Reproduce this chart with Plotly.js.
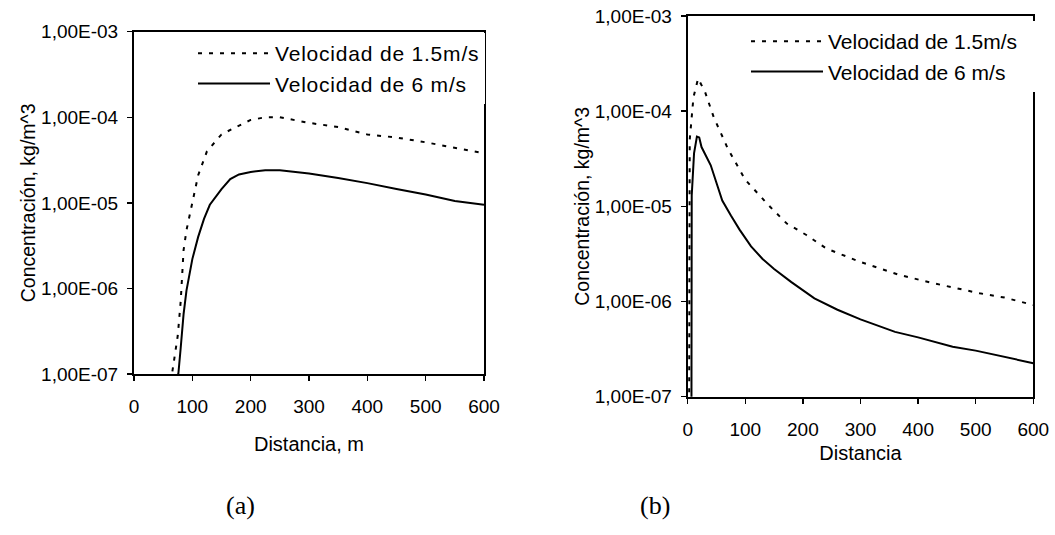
<!DOCTYPE html>
<html>
<head>
<meta charset="utf-8">
<script src="https://cdn.plot.ly/plotly-3.0.1.min.js"></script>
<style>
  html, body { margin: 0; padding: 0; background: #fff; }
  #chart { width: 1055px; height: 535px; }
  .legendtext { letter-spacing: 0.8px; }
</style>
</head>
<body>
<div id="chart"></div>
<script>
// ---- Data ----
const seriesNames = ["Velocidad de 1.5m/s", "Velocidad de 6 m/s"];

// Panel (a)
const distA_slow = [63, 66, 70, 75, 80, 85, 90, 100, 110, 125, 150, 175, 200, 225, 250, 300, 350, 400, 450, 500, 550, 600];
const concA_slow = [8e-8, 1.1e-7, 1.5e-7, 2.8e-7, 7e-7, 2.8e-6, 4.8e-6, 1e-5, 2.1e-5, 4e-5, 6.3e-5, 7.7e-5, 9.3e-5, 1e-4, 1e-4, 8.6e-5, 7.7e-5, 6.3e-5, 5.8e-5, 5.1e-5, 4.4e-5, 3.8e-5];
const distA_fast = [74, 76, 80, 85, 90, 100, 110, 120, 130, 150, 165, 180, 200, 225, 250, 300, 350, 400, 450, 500, 550, 600];
const concA_fast = [8e-8, 1e-7, 2e-7, 5e-7, 9.5e-7, 2.2e-6, 4e-6, 6.5e-6, 9.5e-6, 1.45e-5, 1.9e-5, 2.15e-5, 2.3e-5, 2.4e-5, 2.4e-5, 2.2e-5, 1.95e-5, 1.7e-5, 1.45e-5, 1.25e-5, 1.05e-5, 9.5e-6];

// Panel (b)
const distB_slow = [2.5, 3.5, 10, 18, 30, 45, 70, 100, 125, 143, 172, 206, 241, 300, 368, 426, 507, 550, 600];
const concB_slow = [5e-8, 5e-5, 1.4e-4, 2.2e-4, 1.6e-4, 8.7e-5, 4e-5, 1.9e-5, 1.3e-5, 9.9e-6, 6.6e-6, 5e-6, 3.6e-6, 2.6e-6, 1.9e-6, 1.56e-6, 1.22e-6, 1.1e-6, 9.2e-7];
const distB_fast = [6.5, 7, 11, 16, 20, 24, 40, 60, 75, 90, 110, 130, 150, 180, 220, 260, 300, 360, 400, 460, 500, 550, 600];
const concB_fast = [5e-8, 1.3e-5, 3.6e-5, 5.4e-5, 5.3e-5, 4.2e-5, 2.7e-5, 1.15e-5, 8e-6, 5.7e-6, 3.8e-6, 2.8e-6, 2.2e-6, 1.6e-6, 1.08e-6, 8.2e-7, 6.5e-7, 4.8e-7, 4.2e-7, 3.35e-7, 3.05e-7, 2.6e-7, 2.25e-7];

const yTickVals = [1e-7, 1e-6, 1e-5, 1e-4, 1e-3];
const yTickText = ["1,00E-07", "1,00E-06", "1,00E-05", "1,00E-04", "1,00E-03"];
const xTickVals = [0, 100, 200, 300, 400, 500, 600];
const yTitle = "Concentración, kg/m^3";
const xTitleA = "Distancia, m";
const xTitleB = "Distancia";
const captions = ["(a)", "(b)"];

// ---- Figure ----
const W = 1055, H = 535;
const dotStyle = { color: "#000", width: 2, dash: "4px,7px" };
const solidStyle = { color: "#000", width: 2 };

const traces = [
  { x: distA_slow, y: concA_slow, name: seriesNames[0], mode: "lines", line: dotStyle, xaxis: "x", yaxis: "y", legend: "legend" },
  { x: distA_fast, y: concA_fast, name: seriesNames[1], mode: "lines", line: solidStyle, xaxis: "x", yaxis: "y", legend: "legend" },
  { x: distB_slow, y: concB_slow, name: seriesNames[0], mode: "lines", line: dotStyle, xaxis: "x2", yaxis: "y2", legend: "legend2" },
  { x: distB_fast, y: concB_fast, name: seriesNames[1], mode: "lines", line: solidStyle, xaxis: "x2", yaxis: "y2", legend: "legend2" }
];

const font = { family: "Liberation Sans, Arial, sans-serif", color: "#000" };
function xAxis(domain, anchor, title, standoff) {
  return {
    domain: domain, anchor: anchor, range: [0, 600], tickvals: xTickVals, tickmode: "array",
    showline: true, linecolor: "#000", linewidth: 2, mirror: true,
    ticks: "outside", ticklen: 5, tickwidth: 1.5, tickcolor: "#000",
    ticklabelstandoff: 9,
    showgrid: false, zeroline: false,
    tickfont: { family: font.family, size: 19, color: "#000" },
    title: { text: title, font: { family: font.family, size: 20, color: "#000" }, standoff: standoff }
  };
}
function yAxis(domain, anchor, standoff) {
  return {
    domain: domain, anchor: anchor, type: "log", range: [-7, -3],
    tickmode: "array", tickvals: yTickVals, ticktext: yTickText,
    showline: true, linecolor: "#000", linewidth: 2, mirror: true,
    ticks: "outside", ticklen: 5, tickwidth: 1.5, tickcolor: "#000",
    ticklabelstandoff: 5,
    showgrid: false, zeroline: false,
    tickfont: { family: font.family, size: 19, color: "#000" },
    title: { text: yTitle, font: { family: font.family, size: 19.5, color: "#000" }, standoff: standoff }
  };
}
function legendAt(xr, yt) {
  return {
    x: xr / W, xanchor: "right", y: 1 - yt / H, yanchor: "top",
    bgcolor: "#fff", borderwidth: 0, itemwidth: 72,
    font: { family: font.family, size: 21, color: "#000" },
    tracegroupgap: 0
  };
}

const layout = {
  width: W, height: H,
  margin: { l: 0, r: 0, t: 0, b: 0 },
  paper_bgcolor: "#fff", plot_bgcolor: "#fff",
  font: font,
  showlegend: true,
  xaxis: xAxis([134 / W, 484 / W], "y", xTitleA, 21),
  yaxis: yAxis([1 - 374 / H, 1 - 31.7 / H], "x", 0),
  xaxis2: xAxis([687.7 / W, 1033.3 / W], "y2", xTitleB, 7),
  yaxis2: yAxis([1 - 396.7 / H, 1 - 16 / H], "x2", 0),
  legend: legendAt(485, 33),
  legend2: legendAt(1038, 21),
  annotations: [
    { text: captions[0], xref: "paper", yref: "paper", x: 240 / W, y: 1 - 505 / H, xanchor: "center", yanchor: "middle", showarrow: false,
      font: { family: "Liberation Serif, Times New Roman, serif", size: 26, color: "#000" } },
    { text: captions[1], xref: "paper", yref: "paper", x: 655 / W, y: 1 - 505 / H, xanchor: "center", yanchor: "middle", showarrow: false,
      font: { family: "Liberation Serif, Times New Roman, serif", size: 26, color: "#000" } }
  ]
};

Plotly.newPlot("chart", traces, layout, { staticPlot: true, displayModeBar: false });
</script>
</body>
</html>
